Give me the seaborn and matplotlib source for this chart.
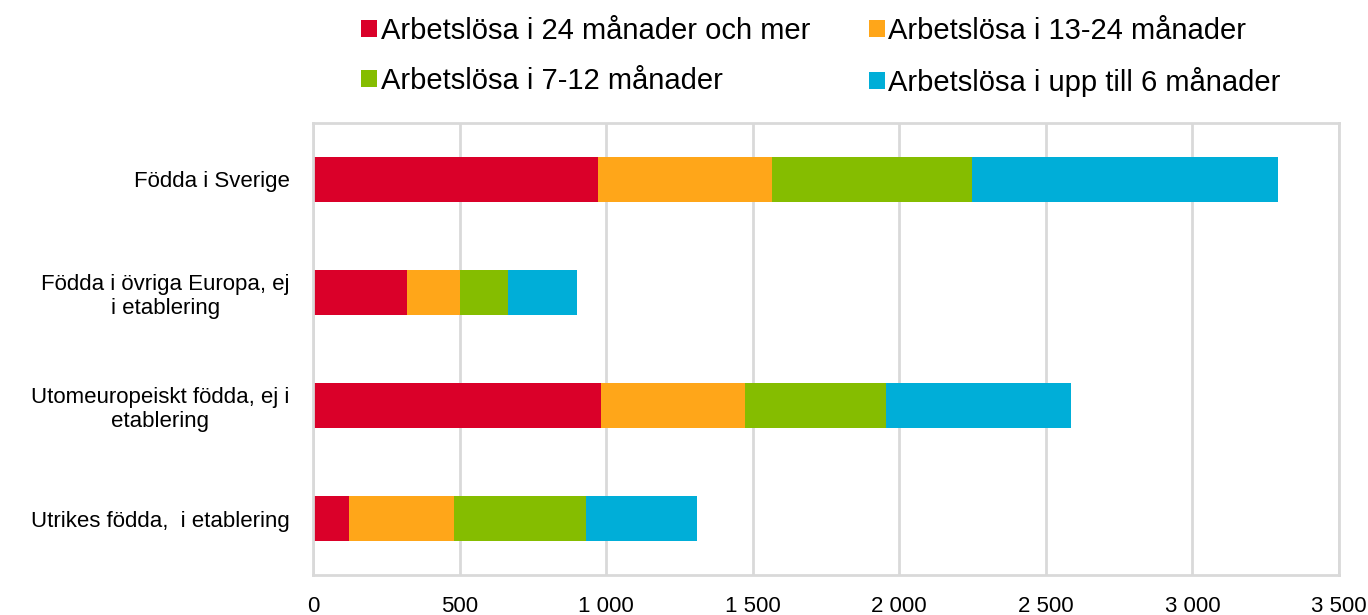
import matplotlib
matplotlib.use('Agg')
import matplotlib.pyplot as plt
import seaborn as sns
import pandas as pd
import numpy as np
from matplotlib.patches import Patch
from matplotlib.ticker import FuncFormatter

# data
categories = ['Födda i Sverige',
              'Födda i övriga Europa, ej\ni etablering',
              'Utomeuropeiskt födda, ej i\netablering',
              'Utrikes födda,  i etablering']
series = ['Arbetslösa i 24 månader och mer', 'Arbetslösa i 13-24 månader',
          'Arbetslösa i 7-12 månader', 'Arbetslösa i upp till 6 månader']
m24_plus = [973, 319, 983, 124]
m13_24 = [593, 184, 491, 358]
m7_12 = [682, 163, 481, 450]
m0_6 = [1043, 235, 630, 379]
colors = ['#DA0029', '#FFA619', '#85BD00', '#00AED8']

df = pd.DataFrame({'cat': categories, series[0]: m24_plus, series[1]: m13_24,
                   series[2]: m7_12, series[3]: m0_6})
# cumulative sums for stacking
cum = df[series].cumsum(axis=1)

sns.set_theme(style='white')
plt.rcParams['font.family'] = ['Liberation Sans', 'DejaVu Sans']
plt.rcParams['text.color'] = 'black'

fig = plt.figure(figsize=(13.68, 6.15), dpi=100)
ax = fig.add_axes([313 / 1368, 1 - 575 / 615, (1339 - 313) / 1368, (575 - 123) / 615])

# draw from the largest cumulative total down so each segment shows
for i in range(len(series) - 1, -1, -1):
    sns.barplot(x=cum[series[i]], y=df['cat'], color=colors[i], orient='h',
                width=0.39, ax=ax, saturation=1, linewidth=0)

ax.set_xlim(0, 3500)
ax.set_xticks(np.arange(0, 3501, 500))
ax.xaxis.set_major_formatter(FuncFormatter(lambda v, p: f'{int(v):,}'.replace(',', ' ')))
ax.grid(axis='x', color='#d9d9d9', linewidth=2)
ax.set_axisbelow(True)
for s in ax.spines.values():
    s.set_color('#d9d9d9')
    s.set_linewidth(2)
ax.set_xlabel('')
ax.set_ylabel('')
ax.tick_params(axis='x', labelsize=16, pad=15, length=0, labelcolor='black')
ax.tick_params(axis='y', labelsize=16, pad=17, length=0, labelcolor='black')
for lbl in ax.get_yticklabels():
    lbl.set_multialignment('center')

# legend, row-major order like the reference
order = [0, 2, 1, 3]
handles = [Patch(facecolor=colors[i], edgecolor='none') for i in order]
labels = [series[i] for i in order]
fig.legend(handles, labels, loc='upper left', bbox_to_anchor=(335 / 1368, 1.015),
           ncol=2, frameon=False, fontsize=21, handlelength=0.55, handleheight=0.55,
           handletextpad=0.12, columnspacing=2.0, labelspacing=0.75)

fig.savefig('out.png', dpi=100)
